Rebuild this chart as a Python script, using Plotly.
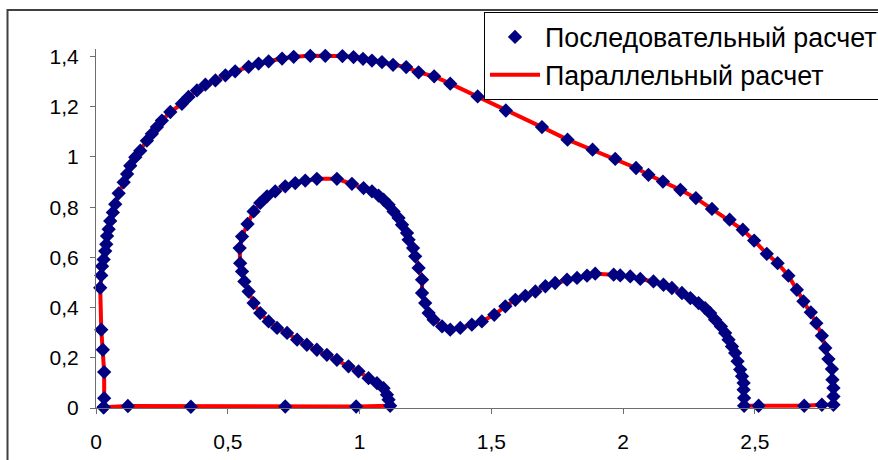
import plotly.graph_objects as go

# Contour points (closed curve)
x_vals = [0.029, 0.031, 0.031, 0.026, 0.020, 0.016, 0.020, 0.023, 0.029, 0.035, 0.039, 0.042,
          0.048, 0.054, 0.064, 0.073, 0.086, 0.105, 0.118, 0.130, 0.149, 0.168, 0.193, 0.212,
          0.231, 0.250, 0.282, 0.326, 0.351, 0.383, 0.415, 0.453, 0.491, 0.528, 0.579, 0.617,
          0.655, 0.706, 0.750, 0.813, 0.870, 0.935, 0.977, 1.013, 1.047, 1.085, 1.127, 1.177,
          1.224, 1.283, 1.344, 1.448, 1.555, 1.692, 1.789, 1.884, 1.970, 2.049, 2.096, 2.151,
          2.217, 2.276, 2.337, 2.404, 2.454, 2.497, 2.545, 2.586, 2.627, 2.659, 2.684, 2.712,
          2.733, 2.754, 2.767, 2.779, 2.792, 2.794, 2.798, 2.798, 2.798, 2.754, 2.687, 2.514,
          2.459,
          2.459, 2.457, 2.457, 2.451, 2.444, 2.434, 2.425, 2.413, 2.400, 2.387, 2.371, 2.349,
          2.330, 2.311, 2.286, 2.255, 2.223, 2.185, 2.153, 2.115, 2.065, 2.027, 1.989, 1.964,
          1.894, 1.863, 1.825, 1.787, 1.742, 1.705, 1.667, 1.629, 1.591, 1.553, 1.511, 1.464,
          1.426, 1.382, 1.344, 1.313, 1.281, 1.262, 1.249, 1.237, 1.237, 1.224, 1.211, 1.203,
          1.186, 1.180, 1.161, 1.148, 1.129, 1.110, 1.091, 1.072, 1.047, 1.015, 0.971, 0.914,
          0.838, 0.794, 0.756, 0.718, 0.680, 0.649, 0.623, 0.598, 0.575, 0.554, 0.545, 0.547,
          0.554, 0.563, 0.579, 0.598, 0.623, 0.655, 0.687, 0.725, 0.763, 0.800, 0.838, 0.876,
          0.914, 0.958, 0.996, 1.034, 1.066, 1.091, 1.104, 1.110, 1.116, 0.987, 0.718, 0.360,
          0.121, 0.029]
y_vals = [0.003, 0.039, 0.143, 0.232, 0.312, 0.479, 0.528, 0.565, 0.592, 0.625, 0.652, 0.685,
          0.712, 0.745, 0.779, 0.812, 0.855, 0.899, 0.932, 0.965, 0.999, 1.025, 1.065, 1.092,
          1.119, 1.145, 1.179, 1.212, 1.239, 1.265, 1.288, 1.305, 1.325, 1.341, 1.359, 1.372,
          1.381, 1.392, 1.399, 1.403, 1.403, 1.402, 1.398, 1.391, 1.384, 1.378, 1.367, 1.358,
          1.337, 1.321, 1.292, 1.241, 1.185, 1.119, 1.069, 1.029, 0.992, 0.956, 0.929, 0.902,
          0.869, 0.836, 0.793, 0.750, 0.710, 0.667, 0.614, 0.577, 0.527, 0.471, 0.425, 0.381,
          0.338, 0.288, 0.239, 0.195, 0.155, 0.113, 0.080, 0.046, 0.013, 0.013, 0.009, 0.009,
          0.009,
          0.040, 0.073, 0.100, 0.126, 0.153, 0.186, 0.219, 0.245, 0.272, 0.299, 0.325, 0.352,
          0.378, 0.398, 0.418, 0.438, 0.458, 0.478, 0.491, 0.504, 0.514, 0.524, 0.528, 0.531,
          0.535, 0.527, 0.518, 0.511, 0.498, 0.485, 0.464, 0.447, 0.431, 0.405, 0.371, 0.345,
          0.332, 0.319, 0.312, 0.325, 0.352, 0.378, 0.418, 0.458, 0.511, 0.558, 0.604, 0.637,
          0.670, 0.697, 0.730, 0.757, 0.783, 0.810, 0.830, 0.846, 0.863, 0.876, 0.893, 0.913,
          0.913, 0.906, 0.896, 0.883, 0.863, 0.843, 0.817, 0.783, 0.733, 0.683, 0.637, 0.577,
          0.544, 0.504, 0.464, 0.418, 0.378, 0.345, 0.319, 0.299, 0.272, 0.252, 0.232, 0.212,
          0.192, 0.166, 0.146, 0.119, 0.099, 0.079, 0.053, 0.033, 0.009, 0.006, 0.006, 0.005,
          0.008, 0.003]

series_names = ["Последовательный расчет", "Параллельный расчет"]
x_ticks = [0, 0.5, 1, 1.5, 2, 2.5]
y_ticks = [0, 0.2, 0.4, 0.6, 0.8, 1.0, 1.2, 1.4]

W, H = 878, 460
ML, MR, MT, MB = 96, 44, 49, 52
PW, PH = W - ML - MR, H - MT - MB

def px(xp):
    return (xp - ML) / PW

def py(yp):
    return (H - MB - yp) / PH

fig = go.Figure()
fig.add_trace(go.Scatter(x=x_vals, y=y_vals, mode="lines", name=series_names[1],
                         line=dict(color="#FF0000", width=4), cliponaxis=False,
                         legendrank=2))
fig.add_trace(go.Scatter(x=x_vals, y=y_vals, mode="markers", name=series_names[0],
                         marker=dict(symbol="diamond", color="#000080", size=11,
                                     line=dict(width=0)),
                         cliponaxis=False, legendrank=1))

axis_common = dict(showline=True, linecolor="#6e6e6e", linewidth=1, ticks="outside",
                   ticklen=5, tickcolor="#6e6e6e", showgrid=False, zeroline=False,
                   automargin=False, tickfont=dict(size=21, color="black"))
fig.update_xaxes(range=[0, 2.8], tickvals=x_ticks, ticklabelstandoff=10, **axis_common)
fig.update_yaxes(range=[0, 1.43], tickvals=y_ticks, ticklabelstandoff=7, **axis_common)

fig.update_layout(
    width=W, height=H,
    margin=dict(l=ML, r=MR, t=MT, b=MB, pad=0, autoexpand=False),
    paper_bgcolor="white", plot_bgcolor="white",
    separators=", ",
    font=dict(family="Liberation Sans, Arial, sans-serif", size=21, color="black"),
    showlegend=True,
    legend=dict(x=px(484), y=py(12), xanchor="left", yanchor="top",
                bgcolor="white", bordercolor="black", borderwidth=1,
                font=dict(size=26.8), itemwidth=50, tracegroupgap=0),
    shapes=[dict(type="rect", xref="paper", yref="paper",
                 x0=px(7.5), y0=py(470), x1=px(900), y1=py(10),
                 line=dict(color="#404040", width=2), layer="below")],
)

fig.write_html("out.html", config={"displayModeBar": False},
               post_script="document.body.style.margin='0';document.body.style.overflow='hidden';")
